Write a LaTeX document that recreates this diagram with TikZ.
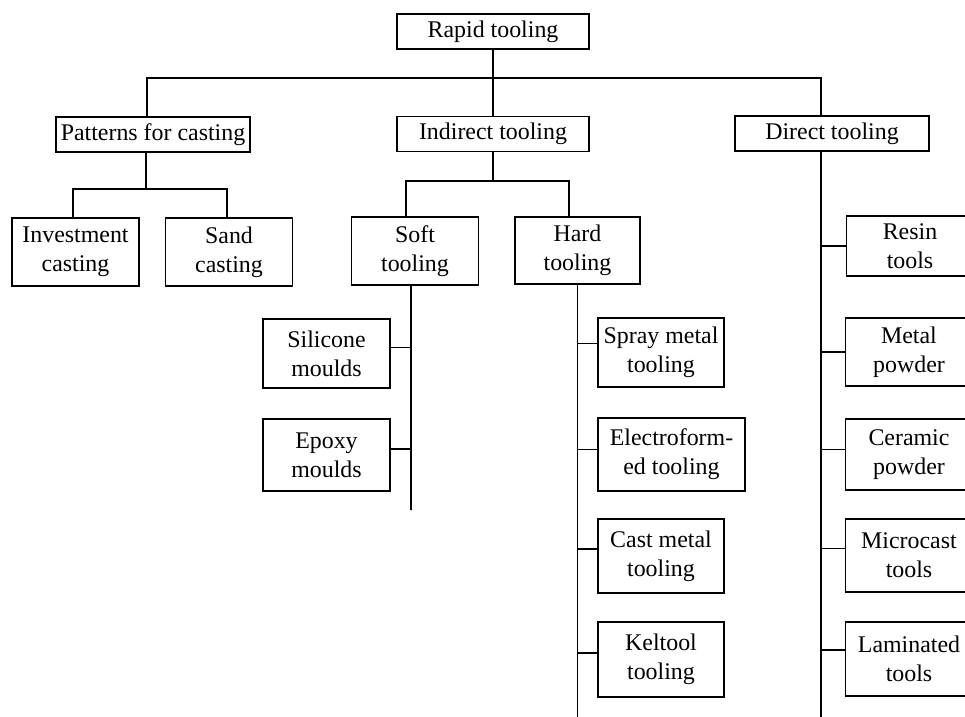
\documentclass[tikz,border=0pt]{standalone}
\usepackage{fontspec}
\setmainfont{Liberation Serif}
\usepackage{tikz}
\usetikzlibrary{positioning}

\begin{document}
\begin{tikzpicture}[x=0.02cm,y=-0.02cm, line width=1pt,
  box/.style={draw,line width=1.1pt,align=center,inner sep=2pt,font=\fontsize{13.6}{16.6}\selectfont},
  wide/.style={box,minimum height=0.7cm},
  leaf/.style={box,minimum width=2.54cm,minimum height=1.42cm}]
\clip (0,0) rectangle (965,717);
% top levels
\node[wide,minimum width=3.84cm] (rt) at (493,31.5) {Rapid tooling};
\node[wide,minimum width=3.88cm] (pat) at (153,134.5) {Patterns for casting};
\node[wide,minimum width=3.84cm] (ind) at (493,134) {Indirect tooling};
\node[wide,minimum width=3.88cm] (dir) at (832,133.5) {Direct tooling};
% second level
\node[leaf,minimum height=1.36cm] (inv) at (75.5,252) {Investment\\casting};
\node[leaf,minimum height=1.36cm] (sand) at (229,252) {Sand\\casting};
\node[leaf,minimum height=1.36cm] (soft) at (415,251) {Soft\\tooling};
\node[leaf,minimum height=1.34cm,minimum width=2.5cm] (hard) at (577.5,250.5) {Hard\\tooling};
% soft tooling
\node[leaf,minimum height=1.38cm] (sil) at (326.5,353.5) {Silicone\\moulds};
\node[leaf,minimum height=1.44cm] (epo) at (326.5,455) {Epoxy\\moulds};
% hard tooling
\node[leaf,minimum height=1.38cm,minimum width=2.52cm] (spray) at (661,352.5) {Spray metal\\tooling};
\node[leaf,minimum height=1.46cm,minimum width=2.94cm] (elec) at (671.5,454.5) {Electroform-\\ed tooling};
\node[leaf,minimum height=1.48cm,minimum width=2.52cm] (cast) at (661,556) {Cast metal\\tooling};
\node[leaf,minimum height=1.5cm,minimum width=2.52cm] (kel) at (661,659.5) {Keltool\\tooling};
% direct tooling
\node[leaf,minimum height=1.2cm] (resin) at (910,246) {Resin\\tools};
\node[leaf,minimum height=1.36cm] (metal) at (909,352) {Metal\\powder};
\node[leaf,minimum height=1.42cm] (cer) at (909,454.5) {Ceramic\\powder};
\node[leaf,minimum height=1.46cm] (micro) at (909,555.5) {Microcast\\tools};
\node[leaf,minimum height=1.48cm] (lam) at (909,659) {Laminated\\tools};
% bus points
\coordinate (bus) at (493,78);
\coordinate (pbus) at (146,189);
\coordinate (ibus) at (493,181);
\coordinate (send) at (411,510);
\coordinate (hend) at (577.5,720);
\coordinate (dend) at (821,720);
% connectors
\draw (rt) -- (ind);
\draw ([xshift=-0.12cm]pat.north) |- (bus) -| ([xshift=-0.22cm]dir.north);
\draw ([xshift=-0.14cm]pat.south) -- (pbus);
\draw ([xshift=-0.05cm]inv.north) |- (pbus) -| ([xshift=-0.04cm]sand.north);
\draw (ind) -- (ibus);
\draw ([xshift=-0.18cm]soft.north) |- (ibus) -| ([xshift=-0.17cm]hard.north);
\draw ([xshift=-0.08cm]soft.south) -- (send);
\draw (hard.south) -- (hend);
\draw ([xshift=-0.22cm]dir.south) -- (dend);
\draw ([yshift=0.12cm]sil.east) -- ([yshift=0.12cm]sil.east -| send);
\draw ([yshift=0.12cm]epo.east) -- ([yshift=0.12cm]epo.east -| send);
\draw ([yshift=0.18cm]spray.west) -- ([yshift=0.18cm]spray.west -| hend);
\draw ([yshift=0.1cm]elec.west) -- ([yshift=0.1cm]elec.west -| hend);
\draw ([yshift=0.14cm]cast.west) -- ([yshift=0.14cm]cast.west -| hend);
\draw ([yshift=0.13cm]kel.west) -- ([yshift=0.13cm]kel.west -| hend);
\draw (resin.west) -- (resin.west -| dend);
\draw (metal.west) -- (metal.west -| dend);
\draw ([yshift=0.1cm]cer.west) -- ([yshift=0.1cm]cer.west -| dend);
\draw ([yshift=0.14cm]micro.west) -- ([yshift=0.14cm]micro.west -| dend);
\draw ([yshift=0.18cm]lam.west) -- ([yshift=0.18cm]lam.west -| dend);
\end{tikzpicture}
\end{document}
